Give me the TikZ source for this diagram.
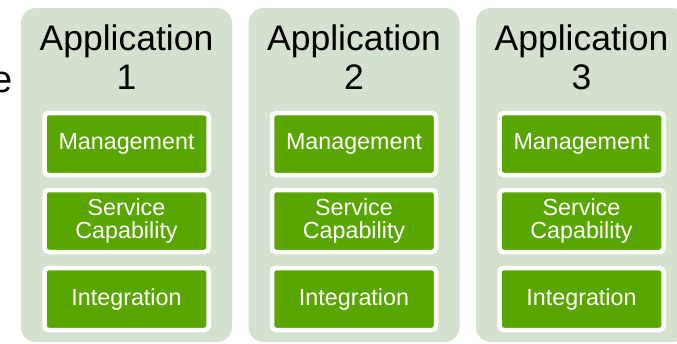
\documentclass[tikz,border=0pt]{standalone}
\usepackage{fontspec}
\setmainfont{Liberation Sans}
\definecolor{panelbg}{RGB}{212,225,207}
\definecolor{boxgreen}{RGB}{90,166,0}
\tikzset{
  panel/.style={fill=panelbg, draw=none, rounded corners=15pt},
  apptitle/.style={font=\fontsize{35.5}{38.3}\selectfont, align=center, text=black, inner sep=0pt, anchor=base},
  layerbox/.style={fill=boxgreen, draw=white, line width=4.5pt, rounded corners=4pt,
    minimum width=164pt, minimum height=62pt, inner sep=0pt,
    font=\fontsize{23.3}{23.5}\selectfont, text=white, align=center},
}
\begin{document}
\begin{tikzpicture}[x=1pt,y=-1pt]
\useasboundingbox (0,0) rectangle (677,343);
\fill[white] (0,0) rectangle (677,343);
\node[font=\fontsize{38}{38}\selectfont, anchor=base east, inner sep=0pt] (cut) at (12.5,92.5) {e};
\foreach \i/\n in {0/1,1/2,2/3}{
  \pgfmathsetmacro{\cx}{126.5+227.5*\i}
  \fill[panel] (\cx-105.5,8) rectangle (\cx+105.5,342);
  \node[apptitle] (title\n) at (\cx,89) {Application\\\n};
  \node[layerbox] (mgmt\n) at (\cx,144) {Management};
  \node[layerbox] (svc\n) at (\cx,221) {Service\\Capability};
  \node[layerbox] (intg\n) at (\cx,299) {Integration};
}
\end{tikzpicture}
\end{document}
